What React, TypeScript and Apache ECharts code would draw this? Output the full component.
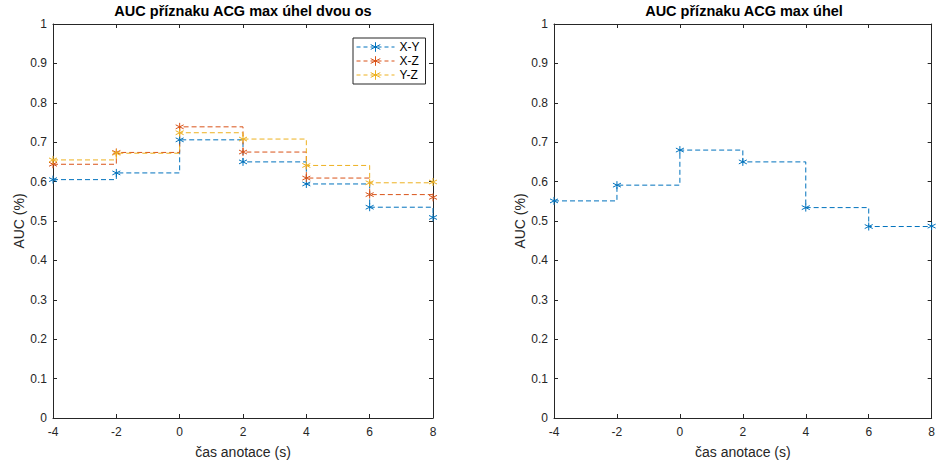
import React, { useEffect, useRef } from "react";
import * as echarts from "echarts";

const times = [-4, -2, 0, 2, 4, 6, 8];
const xyValues = [0.605, 0.622, 0.706, 0.65, 0.594, 0.535, 0.509];
const xzValues = [0.644, 0.674, 0.739, 0.675, 0.609, 0.567, 0.56];
const yzValues = [0.655, 0.672, 0.724, 0.708, 0.641, 0.597, 0.599];
const singleValues = [0.551, 0.591, 0.68, 0.65, 0.534, 0.486, 0.487];
const seriesNames = ["X-Y", "X-Z", "Y-Z"];
const colors = ["#0072BD", "#D95319", "#EDB120"];
const leftTitle = "AUC příznaku ACG max úhel dvou os";
const rightTitle = "AUC příznaku ACG max úhel";
const xLabel = "čas anotace (s)";
const yLabel = "AUC (%)";

const STAR = "path://M0,-5L0,5M-4.33,-2.5L4.33,2.5M-4.33,2.5L4.33,-2.5";
const FONT = "Liberation Sans, Arial, sans-serif";
const INK = "#262626";

export default function App() {
  const ref = useRef<HTMLDivElement>(null);
  useEffect(() => {
    if (!ref.current) return;
    const chart = echarts.init(ref.current, undefined, { renderer: "svg" });
    const grids = [
      { left: 53, top: 24, width: 380, height: 394 },
      { left: 554, top: 24, width: 380, height: 394 },
    ];
    const baseX = (gi: number, pos: "bottom" | "top") => ({
      type: "value",
      gridIndex: gi,
      position: pos,
      min: -4,
      max: 8,
      interval: 2,
      name: pos === "bottom" ? xLabel : "",
      nameLocation: "middle",
      nameGap: 27,
      nameTextStyle: { color: INK, fontSize: 14, fontFamily: FONT },
      axisLine: { show: true, onZero: false, lineStyle: { color: INK, width: 1 } },
      axisTick: { show: true, inside: true, length: 4, lineStyle: { color: INK } },
      axisLabel: {
        show: pos === "bottom",
        color: INK,
        fontSize: 12,
        fontFamily: FONT,
        margin: 8,
      },
      splitLine: { show: false },
    });
    const baseY = (gi: number, pos: "left" | "right") => ({
      type: "value",
      gridIndex: gi,
      position: pos,
      min: 0,
      max: 1,
      interval: 0.1,
      name: pos === "left" ? yLabel : "",
      nameLocation: "middle",
      nameGap: 26,
      nameTextStyle: { color: INK, fontSize: 14, fontFamily: FONT },
      axisLine: { show: true, onZero: false, lineStyle: { color: INK, width: 1 } },
      axisTick: { show: true, inside: true, length: 4, lineStyle: { color: INK } },
      axisLabel: {
        show: pos === "left",
        color: INK,
        fontSize: 12,
        fontFamily: FONT,
        margin: 6,
        formatter: (v: number) => String(Math.round(v * 10) / 10),
      },
      splitLine: { show: false },
    });
    const mk = (name: string, vals: number[], color: string, xi: number, yi: number) => ({
      type: "line",
      name,
      xAxisIndex: xi,
      yAxisIndex: yi,
      step: "end",
      data: times.map((t, i) => [t, vals[i]]),
      symbol: STAR,
      symbolSize: 8,
      showSymbol: true,
      color,
      lineStyle: { color, width: 1, type: [5, 3] },
      itemStyle: { color: "transparent", borderColor: color, borderWidth: 1 },
      emphasis: { disabled: true },
      silent: true,
    });
    chart.setOption({
      animation: false,
      backgroundColor: "#fff",
      title: [
        {
          text: leftTitle,
          left: 243,
          top: 3,
          padding: 0,
          textAlign: "center",
          textStyle: { color: "#000", fontSize: 14.5, fontWeight: "bold", fontFamily: FONT },
        },
        {
          text: rightTitle,
          left: 744,
          top: 3,
          padding: 0,
          textAlign: "center",
          textStyle: { color: "#000", fontSize: 14.5, fontWeight: "bold", fontFamily: FONT },
        },
      ],
      legend: {
        data: seriesNames,
        orient: "vertical",
        left: 353,
        top: 38,
        itemWidth: 38,
        itemHeight: 12,
        itemGap: 2,
        padding: [3, 6, 3, 3],
        borderColor: INK,
        borderWidth: 1,
        backgroundColor: "#fff",
        lineStyle: { width: 1, type: [4, 3] },
        itemStyle: { borderWidth: 1 },
        textStyle: { color: "#000", fontSize: 12, fontFamily: FONT, padding: [0, 0, 0, 0] },
      },
      grid: grids,
      xAxis: [baseX(0, "bottom"), baseX(0, "top"), baseX(1, "bottom"), baseX(1, "top")],
      yAxis: [baseY(0, "left"), baseY(0, "right"), baseY(1, "left"), baseY(1, "right")],
      series: [
        mk(seriesNames[0], xyValues, colors[0], 0, 0),
        mk(seriesNames[1], xzValues, colors[1], 0, 0),
        mk(seriesNames[2], yzValues, colors[2], 0, 0),
        mk("single", singleValues, colors[0], 2, 2),
      ],
    });
    return () => chart.dispose();
  }, []);
  return (
    <div
      ref={ref}
      style={{ position: "absolute", left: 0, top: 0, width: 938, height: 466 }}
    />
  );
}
